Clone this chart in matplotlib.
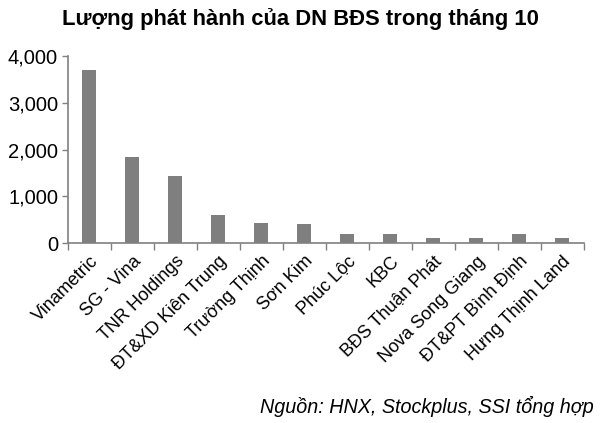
import matplotlib
matplotlib.use("Agg")
import matplotlib.pyplot as plt
from matplotlib.ticker import FuncFormatter, FixedLocator

categories = ["Vinametric", "SG - Vina", "TNR Holdings", "ĐT&XD Kiên Trung",
              "Trường Thịnh", "Sơn Kim", "Phúc Lộc", "KBC", "BĐS Thuận Phát",
              "Nova Song Giang", "ĐT&PT Bình Định", "Hưng Thịnh Land"]
values = [3700, 1850, 1440, 600, 435, 400, 200, 200, 110, 100, 200, 100]
yticks = [0, 1000, 2000, 3000, 4000]
title = "Lượng phát hành của DN BĐS trong tháng 10"
source = "Nguồn: HNX, Stockplus, SSI tổng hợp"

plt.rcParams['font.family'] = ['Liberation Sans', 'DejaVu Sans']
fig = plt.figure(figsize=(6, 4.23), dpi=100)
ax = fig.add_axes([0.113, 0.4255, 0.86, 0.442])

x = list(range(len(categories)))
ax.bar(x, values, width=0.33, color='#7f7f7f', zorder=2)
ax.set_xlim(-0.5, len(categories) - 0.5)
ax.set_ylim(0, 4000)
ax.set_yticks(yticks)
ax.yaxis.set_major_formatter(FuncFormatter(lambda v, p: f"{int(v):,}"))
ax.tick_params(axis='y', labelsize=14.5, length=4, width=1, color='#808080', pad=3)

ax.xaxis.set_major_locator(FixedLocator([i - 0.5 for i in range(len(categories) + 1)]))
ax.xaxis.set_major_formatter(FuncFormatter(lambda v, p: ""))
ax.xaxis.set_minor_locator(FixedLocator(x))
ax.set_xticklabels(categories, minor=True, rotation=45, ha='right',
                   rotation_mode='anchor', fontsize=13)
ax.tick_params(axis='x', which='major', length=5, width=1, color='#808080')
ax.tick_params(axis='x', which='minor', length=0, pad=7)

for s in ['top', 'right']:
    ax.spines[s].set_visible(False)
for s in ['left', 'bottom']:
    ax.spines[s].set_color('#808080')
    ax.spines[s].set_linewidth(1.2)

fig.text(0.5, 0.955, title, ha='center', va='center', fontsize=15.8, fontweight='bold')
fig.text(0.99, 0.04, source, ha='right', va='center', fontsize=14.2, style='italic')

fig.savefig("out.png", dpi=100)
